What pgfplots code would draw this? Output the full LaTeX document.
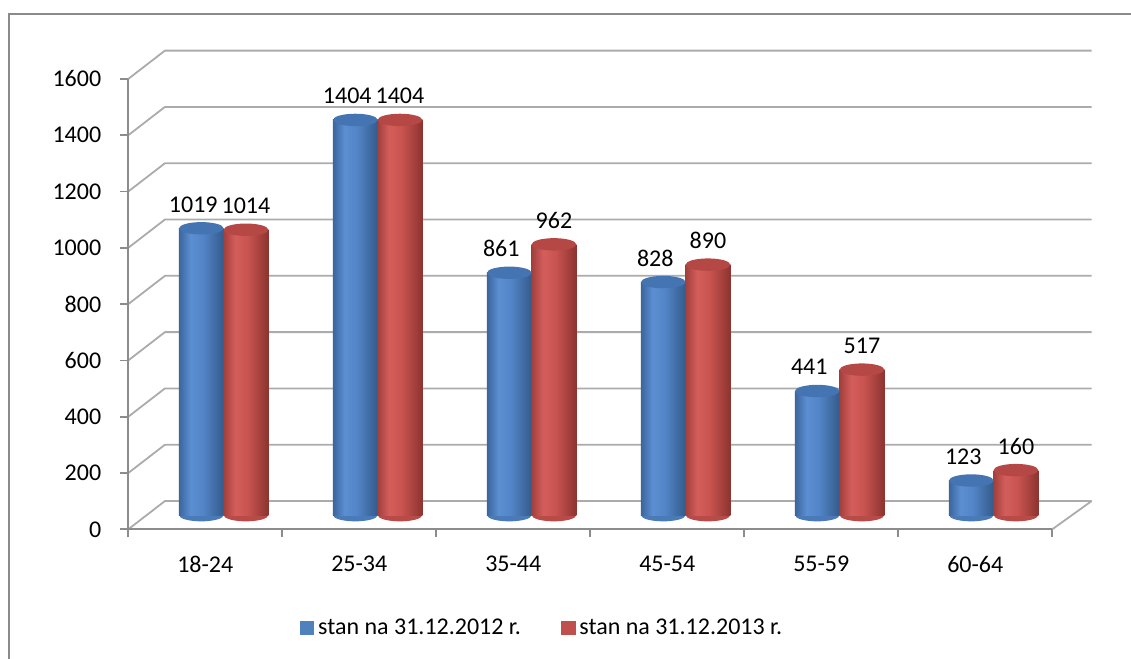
\documentclass[border=0pt]{standalone}
\usepackage{pgfplots}
\pgfplotsset{compat=1.18}
\usepackage{pgfplotstable}
\usepackage{fontspec}
\setmainfont{Carlito}

\definecolor{gridgray}{HTML}{ABABAB}
\definecolor{axisgray}{HTML}{8C8C8C}
\definecolor{framegray}{HTML}{8A8A8A}
\definecolor{bA}{HTML}{3B659C}
\definecolor{bB}{HTML}{5B8FD2}
\definecolor{bC}{HTML}{5285C7}
\definecolor{bD}{HTML}{345A8A}
\definecolor{rA}{HTML}{A1403D}
\definecolor{rB}{HTML}{D45E5B}
\definecolor{rC}{HTML}{C9534F}
\definecolor{rD}{HTML}{8C3431}
\definecolor{bluecap}{HTML}{4574B2}
\definecolor{redcap}{HTML}{B54845}
\definecolor{bluebot}{HTML}{4A7AB8}
\definecolor{redbot}{HTML}{B84A47}
\definecolor{bluelegend}{HTML}{4F81BD}
\definecolor{redlegend}{HTML}{C0504D}

\pgfdeclarehorizontalshading{bluecyl}{100bp}{color(0bp)=(bA); color(25bp)=(bA); color(38bp)=(bB); color(52bp)=(bC); color(75bp)=(bD); color(100bp)=(bD)}
\pgfdeclarehorizontalshading{redcyl}{100bp}{color(0bp)=(rA); color(25bp)=(rA); color(38bp)=(rB); color(52bp)=(rC); color(75bp)=(rD); color(100bp)=(rD)}

\pgfdeclareplotmark{cylend}{%
  \pgfpathellipse{\pgfpointorigin}{\pgfqpoint{11.15pt}{0pt}}{\pgfqpoint{0pt}{3.1pt}}%
  \pgfusepathqfill}

\pgfplotstableread{
cat v12 v13
0 1019 1014
1 1404 1404
2 861 962
3 828 890
4 441 517
5 123 160
}\data

\newcommand{\chartfont}{\fontsize{12}{14}\selectfont}

\pgfplotsset{
  barframe/.style={
    at={(73.325pt,71.925pt)}, anchor=south west,
    scale only axis, width=481.7pt, height=239.65pt,
    xmin=-0.5, xmax=5.756, ymin=0, ymax=1702.7,
    hide axis, clip=false, font=\chartfont,
    /pgf/number format/assume math mode=true,
    /pgf/number format/set thousands separator={},
  }
}

\begin{document}
\begin{tikzpicture}
\useasboundingbox (0pt,0pt) rectangle (565.5pt,329.5pt);
\draw[framegray, line width=0.8pt] (4.5pt,-5pt) -- (4.5pt,322.5pt) -- (575pt,322.5pt);

% main axis: walls, grid, ticks, legend
\begin{axis}[
  at={(64.15pt,64.85pt)}, anchor=south west,
  scale only axis, width=481.7pt, height=239.65pt,
  xmin=-0.5, xmax=5.756, ymin=0, ymax=1702.7,
  clip=false,
  axis line style={draw=none},
  font=\chartfont,
  /pgf/number format/assume math mode=true,
  /pgf/number format/set thousands separator={},
  xtick={0,1,2,3,4,5},
  xticklabels={18-24,25-34,35-44,45-54,55-59,60-64},
  minor xtick={-0.5,0.5,1.5,2.5,3.5,4.5,5.5},
  ytick={0,200,...,1600},
  tick align=outside,
  xtick pos=bottom, ytick pos=left,
  major x tick style={draw=none},
  tick style={color=axisgray, line width=0.8pt},
  major tick length=4pt, minor tick length=4pt,
  yticklabel style={xshift=-6pt},
  xticklabel style={yshift=-6pt},
  legend style={at={(axis description cs:0.4305,-0.206)}, anchor=center,
    draw=none, legend columns=2, font=\chartfont,
    /tikz/every even column/.append style={column sep=18pt}},
]
\draw[gridgray, line width=0.9pt] (axis cs:-0.5,0) -- (axis cs:-0.262,100.5) -- (axis cs:5.756,100.5);
\draw[gridgray, line width=0.9pt] (axis cs:-0.5,200) -- (axis cs:-0.262,300.5) -- (axis cs:5.756,300.5);
\draw[gridgray, line width=0.9pt] (axis cs:-0.5,400) -- (axis cs:-0.262,500.5) -- (axis cs:5.756,500.5);
\draw[gridgray, line width=0.9pt] (axis cs:-0.5,600) -- (axis cs:-0.262,700.5) -- (axis cs:5.756,700.5);
\draw[gridgray, line width=0.9pt] (axis cs:-0.5,800) -- (axis cs:-0.262,900.5) -- (axis cs:5.756,900.5);
\draw[gridgray, line width=0.9pt] (axis cs:-0.5,1000) -- (axis cs:-0.262,1100.5) -- (axis cs:5.756,1100.5);
\draw[gridgray, line width=0.9pt] (axis cs:-0.5,1200) -- (axis cs:-0.262,1300.5) -- (axis cs:5.756,1300.5);
\draw[gridgray, line width=0.9pt] (axis cs:-0.5,1400) -- (axis cs:-0.262,1500.5) -- (axis cs:5.756,1500.5);
\draw[gridgray, line width=0.9pt] (axis cs:-0.5,1600) -- (axis cs:-0.262,1700.5) -- (axis cs:5.756,1700.5);
\draw[gridgray, line width=0.9pt] (axis cs:5.5,0) -- (axis cs:5.756,100.5);
\draw[axisgray, line width=0.8pt] (axis cs:-0.5,1600) -- (axis cs:-0.5,0) -- (axis cs:5.5,0);
\addlegendimage{legend image code/.code={\fill[bluelegend] (0pt,-3.4pt) rectangle (6.8pt,3.4pt);}}
\addlegendentry{stan na 31.12.2012 r.}
\addlegendimage{legend image code/.code={\fill[redlegend] (0pt,-3.4pt) rectangle (6.8pt,3.4pt);}}
\addlegendentry{stan na 31.12.2013 r.}
\end{axis}

% bottom ends of the cylinders
\begin{axis}[barframe]
\addplot[only marks, mark=cylend, mark options={fill=bluebot}]
  table[x expr=\thisrow{cat}-0.145, y expr=0] {\data};
\addplot[only marks, mark=cylend, mark options={fill=redbot}]
  table[x expr=\thisrow{cat}+0.145, y expr=0] {\data};
\end{axis}

% cylinder bodies, caps, labels
\begin{axis}[barframe]
\pgfplotsinvokeforeach{0,1,2,3,4,5}{
\addplot[ybar, bar width=0.29, bar shift=0pt, draw=none, shade, shading=bluecyl, restrict expr to domain={\coordindex}{#1:#1}]
  table[x expr=\thisrow{cat}-0.145, y=v12] {\data};
\addplot[ybar, bar width=0.29, bar shift=0pt, draw=none, shade, shading=redcyl, restrict expr to domain={\coordindex}{#1:#1}]
  table[x expr=\thisrow{cat}+0.145, y=v13] {\data};
}
\addplot[only marks, mark=cylend, mark options={fill=bluecap}]
  table[x expr=\thisrow{cat}-0.145, y=v12] {\data};
\addplot[only marks, mark=cylend, mark options={fill=redcap}]
  table[x expr=\thisrow{cat}+0.145, y=v13] {\data};
\addplot[draw=none, mark=none, nodes near coords,
  every node near coord/.append style={anchor=center, yshift=12pt, xshift=-4pt, text=black, font=\chartfont}]
  table[x expr=\thisrow{cat}-0.145, y=v12] {\data};
\addplot[draw=none, mark=none, nodes near coords,
  every node near coord/.append style={anchor=center, yshift=12pt, xshift=0pt, text=black, font=\chartfont}]
  table[x expr=\thisrow{cat}+0.145, y=v13] {\data};
\end{axis}
\end{tikzpicture}
\end{document}
